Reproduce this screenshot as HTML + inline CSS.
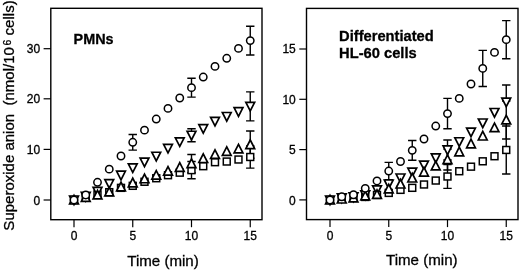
<!DOCTYPE html>
<html><head><meta charset="utf-8"><title>Superoxide anion</title>
<style>
html,body{margin:0;padding:0;background:#fff;}
body{width:520px;height:270px;overflow:hidden;}
svg{display:block;}
text{font-family:"Liberation Sans",Arial,Helvetica,sans-serif;fill:#000;stroke:#000;stroke-width:0.3px;}
.tk{font-size:12px;}
.ax{font-size:15.1px;}
.ti{font-size:14.7px;font-weight:bold;}
</style></head><body>
<svg width="520" height="270" viewBox="0 0 520 270">
<rect width="520" height="270" fill="#fff"/>
<rect x="50.8" y="8.3" width="211.2" height="211.39999999999998" fill="none" stroke="#000" stroke-width="1.4"/>
<line x1="74.00" y1="219.7" x2="74.00" y2="227.2" stroke="#000" stroke-width="1.2"/>
<text x="74.00" y="240.2" text-anchor="middle" class="tk">0</text>
<line x1="132.75" y1="219.7" x2="132.75" y2="227.2" stroke="#000" stroke-width="1.2"/>
<text x="132.75" y="240.2" text-anchor="middle" class="tk">5</text>
<line x1="191.50" y1="219.7" x2="191.50" y2="227.2" stroke="#000" stroke-width="1.2"/>
<text x="191.50" y="240.2" text-anchor="middle" class="tk">10</text>
<line x1="250.25" y1="219.7" x2="250.25" y2="227.2" stroke="#000" stroke-width="1.2"/>
<text x="250.25" y="240.2" text-anchor="middle" class="tk">15</text>
<line x1="43.599999999999994" y1="200.00" x2="50.8" y2="200.00" stroke="#000" stroke-width="1.2"/>
<text x="40.099999999999994" y="204.80" text-anchor="end" class="tk">0</text>
<line x1="43.599999999999994" y1="149.40" x2="50.8" y2="149.40" stroke="#000" stroke-width="1.2"/>
<text x="40.099999999999994" y="154.03" text-anchor="end" class="tk">10</text>
<line x1="43.599999999999994" y1="98.80" x2="50.8" y2="98.80" stroke="#000" stroke-width="1.2"/>
<text x="40.099999999999994" y="103.27" text-anchor="end" class="tk">20</text>
<line x1="43.599999999999994" y1="48.70" x2="50.8" y2="48.70" stroke="#000" stroke-width="1.2"/>
<text x="40.099999999999994" y="53.00" text-anchor="end" class="tk">30</text>
<path d="M191.50 161.54V178.75M187.30 161.54H195.70M187.30 178.75H195.70" stroke="#000" stroke-width="1.4" fill="none"/>
<path d="M250.25 145.86V168.12M246.05 145.86H254.45M246.05 168.12H254.45" stroke="#000" stroke-width="1.4" fill="none"/>
<path d="M191.50 154.46V172.68M187.30 154.46H195.70M187.30 172.68H195.70" stroke="#000" stroke-width="1.4" fill="none"/>
<path d="M250.25 130.93V158.26M246.05 130.93H254.45M246.05 158.26H254.45" stroke="#000" stroke-width="1.4" fill="none"/>
<path d="M191.50 128.76V141.71M187.30 128.76H195.70M187.30 141.71H195.70" stroke="#000" stroke-width="1.4" fill="none"/>
<path d="M250.25 91.87V120.91M246.05 91.87H254.45M246.05 120.91H254.45" stroke="#000" stroke-width="1.4" fill="none"/>
<path d="M132.75 134.52V150.11M128.55 134.52H136.95M128.55 150.11H136.95" stroke="#000" stroke-width="1.4" fill="none"/>
<path d="M191.50 78.26V97.08M187.30 78.26H195.70M187.30 97.08H195.70" stroke="#000" stroke-width="1.4" fill="none"/>
<path d="M250.25 26.29V54.93M246.05 26.29H254.45M246.05 54.93H254.45" stroke="#000" stroke-width="1.4" fill="none"/>
<g fill="#fff" stroke="#000" stroke-width="1.5" stroke-linejoin="miter">
<rect x="70.55" y="196.55" width="6.9" height="6.9"/>
<rect x="82.30" y="193.51" width="6.9" height="6.9"/>
<rect x="94.05" y="190.98" width="6.9" height="6.9"/>
<rect x="105.80" y="188.71" width="6.9" height="6.9"/>
<rect x="117.55" y="184.41" width="6.9" height="6.9"/>
<rect x="129.30" y="182.38" width="6.9" height="6.9"/>
<rect x="141.05" y="178.33" width="6.9" height="6.9"/>
<rect x="152.80" y="174.79" width="6.9" height="6.9"/>
<rect x="164.55" y="171.76" width="6.9" height="6.9"/>
<rect x="176.30" y="169.23" width="6.9" height="6.9"/>
<rect x="188.05" y="166.70" width="6.9" height="6.9"/>
<rect x="199.80" y="162.75" width="6.9" height="6.9"/>
<rect x="211.55" y="158.75" width="6.9" height="6.9"/>
<rect x="223.30" y="158.09" width="6.9" height="6.9"/>
<rect x="235.05" y="156.07" width="6.9" height="6.9"/>
<rect x="246.80" y="153.54" width="6.9" height="6.9"/>
</g>
<g fill="#fff" stroke="#000" stroke-width="1.7" stroke-linejoin="miter">
<path d="M69.60 196.00L78.40 196.00L74.00 204.60Z"/>
<path d="M81.35 192.46L90.15 192.46L85.75 201.06Z"/>
<path d="M93.10 187.40L101.90 187.40L97.50 196.00Z"/>
<path d="M104.85 179.56L113.65 179.56L109.25 188.16Z"/>
<path d="M116.60 171.21L125.40 171.21L121.00 179.81Z"/>
<path d="M128.35 163.87L137.15 163.87L132.75 172.47Z"/>
<path d="M140.10 158.05L148.90 158.05L144.50 166.65Z"/>
<path d="M151.85 152.23L160.65 152.23L156.25 160.83Z"/>
<path d="M163.60 144.39L172.40 144.39L168.00 152.99Z"/>
<path d="M175.35 137.81L184.15 137.81L179.75 146.41Z"/>
<path d="M187.10 131.23L195.90 131.23L191.50 139.83Z"/>
<path d="M198.85 124.65L207.65 124.65L203.25 133.25Z"/>
<path d="M210.60 117.32L219.40 117.32L215.00 125.92Z"/>
<path d="M222.35 112.51L231.15 112.51L226.75 121.11Z"/>
<path d="M234.10 107.70L242.90 107.70L238.50 116.30Z"/>
<path d="M245.85 102.39L254.65 102.39L250.25 110.99Z"/>
</g>
<g fill="#fff" stroke="#000" stroke-width="1.7" stroke-linejoin="miter">
<path d="M69.60 204.00L78.40 204.00L74.00 195.40Z"/>
<path d="M81.35 201.47L90.15 201.47L85.75 192.87Z"/>
<path d="M93.10 198.94L101.90 198.94L97.50 190.34Z"/>
<path d="M104.85 195.90L113.65 195.90L109.25 187.30Z"/>
<path d="M116.60 190.84L125.40 190.84L121.00 182.24Z"/>
<path d="M128.35 186.80L137.15 186.80L132.75 178.20Z"/>
<path d="M140.10 182.75L148.90 182.75L144.50 174.15Z"/>
<path d="M151.85 179.21L160.65 179.21L156.25 170.61Z"/>
<path d="M163.60 175.16L172.40 175.16L168.00 166.56Z"/>
<path d="M175.35 171.31L184.15 171.31L179.75 162.71Z"/>
<path d="M187.10 167.57L195.90 167.57L191.50 158.97Z"/>
<path d="M198.85 162.51L207.65 162.51L203.25 153.91Z"/>
<path d="M210.60 158.46L219.40 158.46L215.00 149.86Z"/>
<path d="M222.35 155.42L231.15 155.42L226.75 146.82Z"/>
<path d="M234.10 152.89L242.90 152.89L238.50 144.29Z"/>
<path d="M245.85 148.59L254.65 148.59L250.25 139.99Z"/>
</g>
<g fill="#fff" stroke="#000" stroke-width="1.5" stroke-linejoin="miter">
<circle cx="74.00" cy="200.00" r="3.7"/>
<circle cx="85.75" cy="194.94" r="3.7"/>
<circle cx="97.50" cy="182.29" r="3.7"/>
<circle cx="109.25" cy="169.13" r="3.7"/>
<circle cx="121.00" cy="155.98" r="3.7"/>
<circle cx="132.75" cy="142.32" r="3.7"/>
<circle cx="144.50" cy="130.17" r="3.7"/>
<circle cx="156.25" cy="119.04" r="3.7"/>
<circle cx="168.00" cy="108.41" r="3.7"/>
<circle cx="179.75" cy="97.99" r="3.7"/>
<circle cx="191.50" cy="87.67" r="3.7"/>
<circle cx="203.25" cy="77.04" r="3.7"/>
<circle cx="215.00" cy="66.42" r="3.7"/>
<circle cx="226.75" cy="58.32" r="3.7"/>
<circle cx="238.50" cy="48.40" r="3.7"/>
<circle cx="250.25" cy="40.61" r="3.7"/>
</g>
<rect x="306.5" y="8.4" width="211.5" height="211.2" fill="none" stroke="#000" stroke-width="1.4"/>
<line x1="330.00" y1="219.6" x2="330.00" y2="227.1" stroke="#000" stroke-width="1.2"/>
<text x="330.00" y="240.2" text-anchor="middle" class="tk">0</text>
<line x1="388.75" y1="219.6" x2="388.75" y2="227.1" stroke="#000" stroke-width="1.2"/>
<text x="388.75" y="240.2" text-anchor="middle" class="tk">5</text>
<line x1="447.50" y1="219.6" x2="447.50" y2="227.1" stroke="#000" stroke-width="1.2"/>
<text x="447.50" y="240.2" text-anchor="middle" class="tk">10</text>
<line x1="506.25" y1="219.6" x2="506.25" y2="227.1" stroke="#000" stroke-width="1.2"/>
<text x="506.25" y="240.2" text-anchor="middle" class="tk">15</text>
<line x1="299.3" y1="199.90" x2="306.5" y2="199.90" stroke="#000" stroke-width="1.2"/>
<text x="295.8" y="204.70" text-anchor="end" class="tk">0</text>
<line x1="299.3" y1="149.60" x2="306.5" y2="149.60" stroke="#000" stroke-width="1.2"/>
<text x="295.8" y="154.23" text-anchor="end" class="tk">5</text>
<line x1="299.3" y1="99.30" x2="306.5" y2="99.30" stroke="#000" stroke-width="1.2"/>
<text x="295.8" y="103.77" text-anchor="end" class="tk">10</text>
<line x1="299.3" y1="49.00" x2="306.5" y2="49.00" stroke="#000" stroke-width="1.2"/>
<text x="295.8" y="53.30" text-anchor="end" class="tk">15</text>
<path d="M447.50 164.65V188.35M443.30 164.65H451.70M443.30 188.35H451.70" stroke="#000" stroke-width="1.4" fill="none"/>
<path d="M506.25 125.95V173.97M502.05 125.95H510.45M502.05 173.97H510.45" stroke="#000" stroke-width="1.4" fill="none"/>
<path d="M447.50 149.15V170.02M443.30 149.15H451.70M443.30 170.02H451.70" stroke="#000" stroke-width="1.4" fill="none"/>
<path d="M506.25 100.93V139.02M502.05 100.93H510.45M502.05 139.02H510.45" stroke="#000" stroke-width="1.4" fill="none"/>
<path d="M447.50 139.93V159.99M443.30 139.93H451.70M443.30 159.99H451.70" stroke="#000" stroke-width="1.4" fill="none"/>
<path d="M506.25 85.02V102.04M502.05 85.02H510.45" stroke="#000" stroke-width="1.4" fill="none"/>
<path d="M388.75 162.42V179.64M384.55 162.42H392.95M384.55 179.64H392.95" stroke="#000" stroke-width="1.4" fill="none"/>
<path d="M412.25 140.54V160.19M408.05 140.54H416.45M408.05 160.19H416.45" stroke="#000" stroke-width="1.4" fill="none"/>
<path d="M447.50 98.40V128.79M443.30 98.40H451.70M443.30 128.79H451.70" stroke="#000" stroke-width="1.4" fill="none"/>
<path d="M482.75 50.38V86.44M478.55 50.38H486.95M478.55 86.44H486.95" stroke="#000" stroke-width="1.4" fill="none"/>
<path d="M506.25 20.60V58.69M502.05 20.60H510.45M502.05 58.69H510.45" stroke="#000" stroke-width="1.4" fill="none"/>
<g fill="#fff" stroke="#000" stroke-width="1.5" stroke-linejoin="miter">
<rect x="326.55" y="196.55" width="6.9" height="6.9"/>
<rect x="338.30" y="195.03" width="6.9" height="6.9"/>
<rect x="350.05" y="194.52" width="6.9" height="6.9"/>
<rect x="361.80" y="193.51" width="6.9" height="6.9"/>
<rect x="373.55" y="191.49" width="6.9" height="6.9"/>
<rect x="385.30" y="189.46" width="6.9" height="6.9"/>
<rect x="397.05" y="186.42" width="6.9" height="6.9"/>
<rect x="408.80" y="184.39" width="6.9" height="6.9"/>
<rect x="420.55" y="181.05" width="6.9" height="6.9"/>
<rect x="432.30" y="177.10" width="6.9" height="6.9"/>
<rect x="444.05" y="173.05" width="6.9" height="6.9"/>
<rect x="455.80" y="167.78" width="6.9" height="6.9"/>
<rect x="467.55" y="163.22" width="6.9" height="6.9"/>
<rect x="479.30" y="157.85" width="6.9" height="6.9"/>
<rect x="491.05" y="152.79" width="6.9" height="6.9"/>
<rect x="502.80" y="146.51" width="6.9" height="6.9"/>
</g>
<g fill="#fff" stroke="#000" stroke-width="1.7" stroke-linejoin="miter">
<path d="M325.60 196.00L334.40 196.00L330.00 204.60Z"/>
<path d="M337.35 193.97L346.15 193.97L341.75 202.57Z"/>
<path d="M349.10 192.96L357.90 192.96L353.50 201.56Z"/>
<path d="M360.85 190.94L369.65 190.94L365.25 199.53Z"/>
<path d="M372.60 185.87L381.40 185.87L377.00 194.47Z"/>
<path d="M384.35 179.99L393.15 179.99L388.75 188.59Z"/>
<path d="M396.10 174.02L404.90 174.02L400.50 182.62Z"/>
<path d="M407.85 168.04L416.65 168.04L412.25 176.64Z"/>
<path d="M419.60 161.05L428.40 161.05L424.00 169.65Z"/>
<path d="M431.35 153.96L440.15 153.96L435.75 162.56Z"/>
<path d="M443.10 145.96L451.90 145.96L447.50 154.56Z"/>
<path d="M454.85 137.75L463.65 137.75L459.25 146.35Z"/>
<path d="M466.60 128.13L475.40 128.13L471.00 136.73Z"/>
<path d="M478.35 119.01L487.15 119.01L482.75 127.61Z"/>
<path d="M490.10 108.48L498.90 108.48L494.50 117.08Z"/>
<path d="M501.85 98.04L510.65 98.04L506.25 106.64Z"/>
</g>
<g fill="#fff" stroke="#000" stroke-width="1.7" stroke-linejoin="miter">
<path d="M325.60 204.00L334.40 204.00L330.00 195.40Z"/>
<path d="M337.35 202.99L346.15 202.99L341.75 194.39Z"/>
<path d="M349.10 201.97L357.90 201.97L353.50 193.37Z"/>
<path d="M360.85 199.95L369.65 199.95L365.25 191.35Z"/>
<path d="M372.60 198.43L381.40 198.43L377.00 189.83Z"/>
<path d="M384.35 192.96L393.15 192.96L388.75 184.36Z"/>
<path d="M396.10 187.99L404.90 187.99L400.50 179.39Z"/>
<path d="M407.85 182.02L416.65 182.02L412.25 173.42Z"/>
<path d="M419.60 176.04L428.40 176.04L424.00 167.44Z"/>
<path d="M431.35 169.96L440.15 169.96L435.75 161.36Z"/>
<path d="M443.10 163.58L451.90 163.58L447.50 154.98Z"/>
<path d="M454.85 155.78L463.65 155.78L459.25 147.18Z"/>
<path d="M466.60 147.78L475.40 147.78L471.00 139.18Z"/>
<path d="M478.35 139.98L487.15 139.98L482.75 131.38Z"/>
<path d="M490.10 131.67L498.90 131.67L494.50 123.07Z"/>
<path d="M501.85 123.97L510.65 123.97L506.25 115.37Z"/>
</g>
<g fill="#fff" stroke="#000" stroke-width="1.5" stroke-linejoin="miter">
<circle cx="330.00" cy="200.00" r="3.7"/>
<circle cx="341.75" cy="196.76" r="3.7"/>
<circle cx="353.50" cy="194.73" r="3.7"/>
<circle cx="365.25" cy="188.35" r="3.7"/>
<circle cx="377.00" cy="180.96" r="3.7"/>
<circle cx="388.75" cy="171.03" r="3.7"/>
<circle cx="400.50" cy="161.51" r="3.7"/>
<circle cx="412.25" cy="150.36" r="3.7"/>
<circle cx="424.00" cy="139.02" r="3.7"/>
<circle cx="435.75" cy="126.05" r="3.7"/>
<circle cx="447.50" cy="113.59" r="3.7"/>
<circle cx="459.25" cy="98.40" r="3.7"/>
<circle cx="471.00" cy="84.01" r="3.7"/>
<circle cx="482.75" cy="68.41" r="3.7"/>
<circle cx="494.50" cy="52.41" r="3.7"/>
<circle cx="506.25" cy="39.64" r="3.7"/>
</g>
<text x="163" y="265.6" text-anchor="middle" class="ax">Time (min)</text>
<text x="421.8" y="265.4" text-anchor="middle" class="ax">Time (min)</text>
<text id="yl" transform="translate(14,115.5) rotate(-90)" text-anchor="middle" class="ax" style="font-size:15px">Superoxide anion&#160;&#160;(nmol/10<tspan dx="1.8" dy="-3.4" font-size="10.5">6</tspan><tspan dy="3.4"> cells)</tspan></text>
<text x="73.6" y="44.4" class="ti" style="font-size:14.4px">PMNs</text>
<text x="339.1" y="40.7" class="ti">Differentiated</text>
<text x="339.1" y="57.6" class="ti">HL-60 cells</text>
</svg>
</body></html>
